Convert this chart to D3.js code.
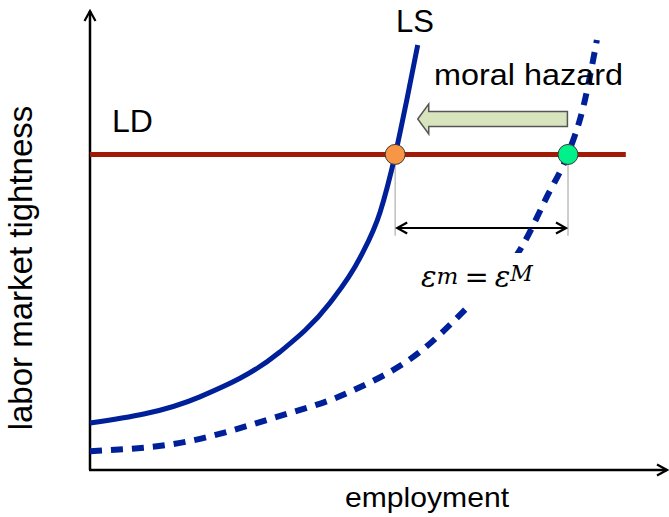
<!DOCTYPE html>
<html>
<head>
<meta charset="utf-8">
<script src="https://cdn.jsdelivr.net/npm/d3@7"></script>
<style>
  body { margin: 0; background: #fff; }
  text { font-family: "Liberation Sans", Arial, sans-serif; fill: #000; }
</style>
</head>
<body>
<div id="chart"></div>
<script>
// labor supply curve (solid)
const lsEmployment = [0, 19.0, 32.9, 41.5, 46.7, 50.2, 52.8, 54.8, 56.7];
const lsTightness  = [10.2, 15.9, 25.7, 36.3, 46.1, 56.1, 68.5, 80.4, 92.4];

// labor supply curve with moral hazard (dashed)
const mhEmployment = [0, 15.6, 31.7, 45.0, 57.1, 65.7, 74.7, 79.2, 82.7, 85.3, 87.7];
const mhTightness  = [4.1, 5.9, 11.3, 17.0, 25.7, 35.9, 48.5, 59.8, 68.7, 78.7, 93.5];

// labor demand (flat) and the two equilibria
const ldTightness = 68.6;
const ldEnd = 92.7;
const eqEmployment = [52.8, 82.7];
const eqColors = ["#F79646", "#00F08A"];

const width = 669, height = 517;

const x = d3.scaleLinear().domain([0, 100]).range([90, 668]);
const y = d3.scaleLinear().domain([0, 100]).range([470, 10]);

const svg = d3.select("#chart").append("svg")
    .attr("width", width)
    .attr("height", height);

const defs = svg.append("defs");
defs.append("marker")
    .attr("id", "chev")
    .attr("viewBox", "-12 -7 14 14")
    .attr("refX", 0).attr("refY", 0)
    .attr("markerWidth", 14).attr("markerHeight", 14)
    .attr("markerUnits", "userSpaceOnUse")
    .attr("orient", "auto-start-reverse")
    .append("path")
    .attr("d", "M-10,-5.5 L0,0 L-10,5.5")
    .attr("fill", "none")
    .attr("stroke", "#000")
    .attr("stroke-width", 2.2);

// axes
svg.append("line")
    .attr("x1", x(0)).attr("y1", y(0))
    .attr("x2", x(0)).attr("y2", y(100) + 1)
    .attr("stroke", "#000").attr("stroke-width", 2.5)
    .attr("marker-end", "url(#chev)");
svg.append("line")
    .attr("x1", x(0) - 1).attr("y1", y(0))
    .attr("x2", x(100) - 1).attr("y2", y(0))
    .attr("stroke", "#000").attr("stroke-width", 2.5)
    .attr("marker-end", "url(#chev)");

const line = d3.line()
    .x(d => x(d[0]))
    .y(d => y(d[1]))
    .curve(d3.curveMonotoneX);

// grey guide lines down from the equilibria
eqEmployment.forEach(e => {
    svg.append("line")
        .attr("x1", x(e)).attr("x2", x(e))
        .attr("y1", y(ldTightness)).attr("y2", y(50.9))
        .attr("stroke", "#BFBFBF").attr("stroke-width", 1.5);
});

// double arrow between the equilibria
svg.append("line")
    .attr("x1", x(eqEmployment[0]) + 2).attr("x2", x(eqEmployment[1]) - 2)
    .attr("y1", y(52.6)).attr("y2", y(52.6))
    .attr("stroke", "#000").attr("stroke-width", 2)
    .attr("marker-start", "url(#chev)")
    .attr("marker-end", "url(#chev)");

// LD
svg.append("line")
    .attr("x1", x(0)).attr("x2", x(ldEnd))
    .attr("y1", y(ldTightness)).attr("y2", y(ldTightness))
    .attr("stroke", "#A01A05").attr("stroke-width", 5);

// dashed supply
svg.append("path")
    .datum(mhEmployment.map((e, i) => [e, mhTightness[i]]))
    .attr("d", line)
    .attr("fill", "none")
    .attr("stroke", "#00209A")
    .attr("stroke-width", 6)
    .attr("stroke-dasharray", "12,9");

// solid supply LS
svg.append("path")
    .datum(lsEmployment.map((e, i) => [e, lsTightness[i]]))
    .attr("d", line)
    .attr("fill", "none")
    .attr("stroke", "#00209A")
    .attr("stroke-width", 5);

// equilibrium dots
svg.selectAll(".eq")
    .data(eqEmployment)
    .enter().append("circle")
    .attr("class", "eq")
    .attr("cx", d => x(d))
    .attr("cy", y(ldTightness))
    .attr("r", 10)
    .attr("fill", (d, i) => eqColors[i])
    .attr("stroke", "#3a3a3a")
    .attr("stroke-width", 1);

// moral hazard block arrow (pointing left)
const arrY = y(76.3);
const tail = x(82.6), tip = x(56.7);
const headLen = 11, bodyH = 7.5, headH = 15;
svg.append("path")
    .attr("d", `M${tail},${arrY - bodyH} L${tip + headLen},${arrY - bodyH} L${tip + headLen},${arrY - headH}
               L${tip},${arrY} L${tip + headLen},${arrY + headH} L${tip + headLen},${arrY + bodyH}
               L${tail},${arrY + bodyH} Z`)
    .attr("fill", "#D7E4BD")
    .attr("stroke", "#555")
    .attr("stroke-width", 1.5);

// labels
svg.append("text").attr("x", 396).attr("y", 32)
    .style("font-size", "31px").text("LS");
svg.append("text").attr("x", 112).attr("y", 132)
    .style("font-size", "32px").text("LD");
svg.append("text").attr("x", 434).attr("y", 85)
    .attr("textLength", 189).attr("lengthAdjust", "spacingAndGlyphs")
    .style("font-size", "29px").text("moral hazard");

svg.append("text")
    .attr("x", 345).attr("y", 507)
    .attr("textLength", 164).attr("lengthAdjust", "spacingAndGlyphs")
    .style("font-size", "28px")
    .text("employment");

svg.append("text")
    .attr("transform", "translate(32,268) rotate(-90)")
    .attr("text-anchor", "middle")
    .style("font-size", "33px")
    .text("labor market tightness");

// epsilon^m = epsilon^M on a white box that hides the dashed curve
svg.append("rect")
    .attr("x", 408).attr("y", 253)
    .attr("width", 140).attr("height", 52)
    .attr("fill", "#fff");
const eps = svg.append("text")
    .attr("x", 421).attr("y", 287)
    .style("font-family", "'DejaVu Serif', 'Liberation Serif', serif")
    .style("font-size", "29px");
eps.append("tspan").style("font-style", "italic").text("ε");
eps.append("tspan").style("font-style", "italic").style("font-size", "23px")
    .attr("dy", -3).text("m");
eps.append("tspan").attr("dy", 3).attr("dx", 6).text("=");
eps.append("tspan").attr("dx", 6).style("font-style", "italic").text("ε");
eps.append("tspan").style("font-style", "italic").style("font-size", "22px")
    .attr("dy", -6).text("M");
</script>
</body>
</html>
